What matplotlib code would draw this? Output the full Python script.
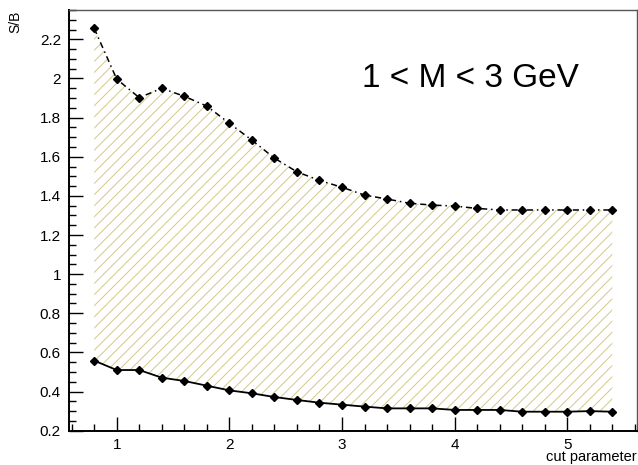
import numpy as np
import matplotlib
matplotlib.use('Agg')
import matplotlib.pyplot as plt
from matplotlib.ticker import MultipleLocator

plt.rcParams['font.family'] = ['Liberation Sans', 'DejaVu Sans']
plt.rcParams['hatch.linewidth'] = 0.7

cut = [0.8, 1.0, 1.2, 1.4, 1.6, 1.8, 2.0, 2.2, 2.4, 2.6, 2.8, 3.0,
       3.2, 3.4, 3.6, 3.8, 4.0, 4.2, 4.4, 4.6, 4.8, 5.0, 5.2, 5.4]
sb_upper = [2.256, 1.997, 1.902, 1.950, 1.909, 1.859, 1.771, 1.685, 1.593, 1.523, 1.479, 1.444,
            1.404, 1.384, 1.362, 1.353, 1.348, 1.336, 1.328, 1.328, 1.328, 1.328, 1.328, 1.328]
sb_lower = [0.558, 0.510, 0.510, 0.471, 0.454, 0.430, 0.406, 0.391, 0.372, 0.357, 0.343, 0.333,
            0.323, 0.314, 0.314, 0.314, 0.306, 0.306, 0.306, 0.297, 0.297, 0.297, 0.300, 0.297]

fig = plt.figure(figsize=(6.38, 4.65), dpi=100)
ax = fig.add_axes([0.1086, 0.0738, 0.8898, 0.9047])

# hatched band between the two curves
ax.fill_between(cut, sb_lower, sb_upper, facecolor='none', edgecolor='#d2c889',
                hatch='///', linewidth=0)

ax.plot(cut, sb_upper, color='black', lw=1.1, dashes=(4, 2.5, 1, 2.5),
        marker='D', ms=4, mfc='black', mec='black')
ax.plot(cut, sb_lower, color='black', lw=1.3, ls='-',
        marker='D', ms=4, mfc='black', mec='black')

ax.set_xlim(0.579, 5.619)
ax.set_ylim(0.2, 2.35)

ax.xaxis.set_minor_locator(MultipleLocator(0.2))
ax.yaxis.set_minor_locator(MultipleLocator(0.05))
ax.set_yticks([0.2, 0.4, 0.6, 0.8, 1.0, 1.2, 1.4, 1.6, 1.8, 2.0, 2.2])
ax.set_yticklabels(['0.2', '0.4', '0.6', '0.8', '1', '1.2', '1.4', '1.6', '1.8', '2', '2.2'])
ax.set_xticks([1, 2, 3, 4, 5])
ax.set_xticklabels(['1', '2', '3', '4', '5'])

ax.tick_params(which='both', direction='in', top=False, right=False, width=1,
               labelsize=11, colors='black')
ax.tick_params(which='major', length=10, pad=5)
ax.tick_params(which='minor', length=5)
ax.tick_params(axis='y', pad=6)

for s in ['left', 'bottom']:
    ax.spines[s].set_linewidth(1.4)
for s in ['top', 'right']:
    ax.spines[s].set_linewidth(1.0)
    ax.spines[s].set_color('#555555')

fig.text(0.0235, 0.978, 'S/B', rotation=90, ha='center', va='top', fontsize=10)
fig.text(0.998, 0.017, 'cut parameter', ha='right', va='center', fontsize=10.5)
fig.text(0.737, 0.832, '1 < M < 3 GeV', ha='center', va='center', fontsize=24)

fig.savefig('out.png', dpi=100)
